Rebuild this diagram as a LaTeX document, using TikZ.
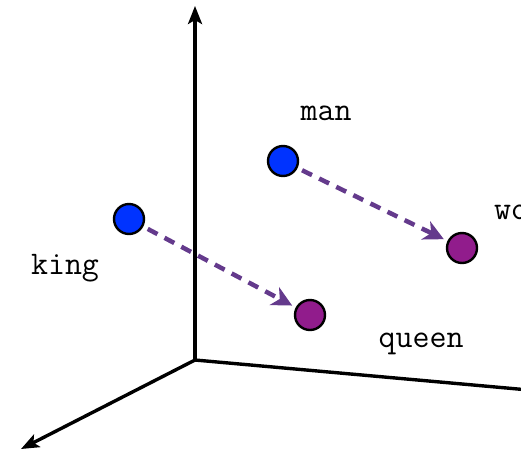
\documentclass[tikz,border=0pt]{standalone}
\usepackage{fontspec}
\usetikzlibrary{arrows.meta, positioning}
\definecolor{PointBlue}{RGB}{0,51,255}
\definecolor{PointPurple}{RGB}{145,28,140}
\definecolor{ShiftPurple}{RGB}{100,58,140}

\tikzset{
  word/.style={circle, draw=black, line width=2.4pt, minimum size=30pt, inner sep=0pt},
  wordlabel/.style={font=\ttfamily\fontsize{33}{33}\selectfont, inner sep=0pt},
  axis/.style={line width=3.4pt, -{Stealth[length=18pt, width=14pt, inset=4pt]}},
  offsetarrow/.style={ShiftPurple, line width=4.5pt, dash pattern=on 11pt off 8pt,
    -{Stealth[length=20pt, width=20pt, inset=6pt]}, shorten <=5pt, shorten >=4pt}
}

\begin{document}
\begin{tikzpicture}[x=1pt, y=-1pt]
          \useasboundingbox (0,0) rectangle (521,450);
          \clip (0,0) rectangle (521,450);
          \fill[white] (0,0) rectangle (521,450);
          % axes
          \coordinate (o) at (195,360);
          \coordinate (up) at (195,6);
          \coordinate (front) at (21,449);
          \coordinate (side) at (540,391);
          \draw[axis] (o) -- (up);
          \draw[axis] (o) -- (front);
          \draw[line width=3.4pt] (o) -- (side);
          % words
          \node[word, fill=PointBlue] (king) at (129,219) {};
          \node[word, fill=PointBlue] (man) at (283,161) {};
          \node[word, fill=PointPurple] (queen) at (310,315) {};
          \node[word, fill=PointPurple] (woman) at (462,248) {};
          \node[wordlabel] (kinglbl) at (65,268) {king};
          \node[wordlabel] (manlbl) at (326,113) {man};
          \node[wordlabel] (queenlbl) at (421,344) {queen};
          \node[wordlabel, anchor=west] (womanlbl) at (494,212) {woman};
          % offsets
          \draw[offsetarrow] (king) -- (queen);
          \draw[offsetarrow] (man) -- (woman);
        \end{tikzpicture}
\end{document}
